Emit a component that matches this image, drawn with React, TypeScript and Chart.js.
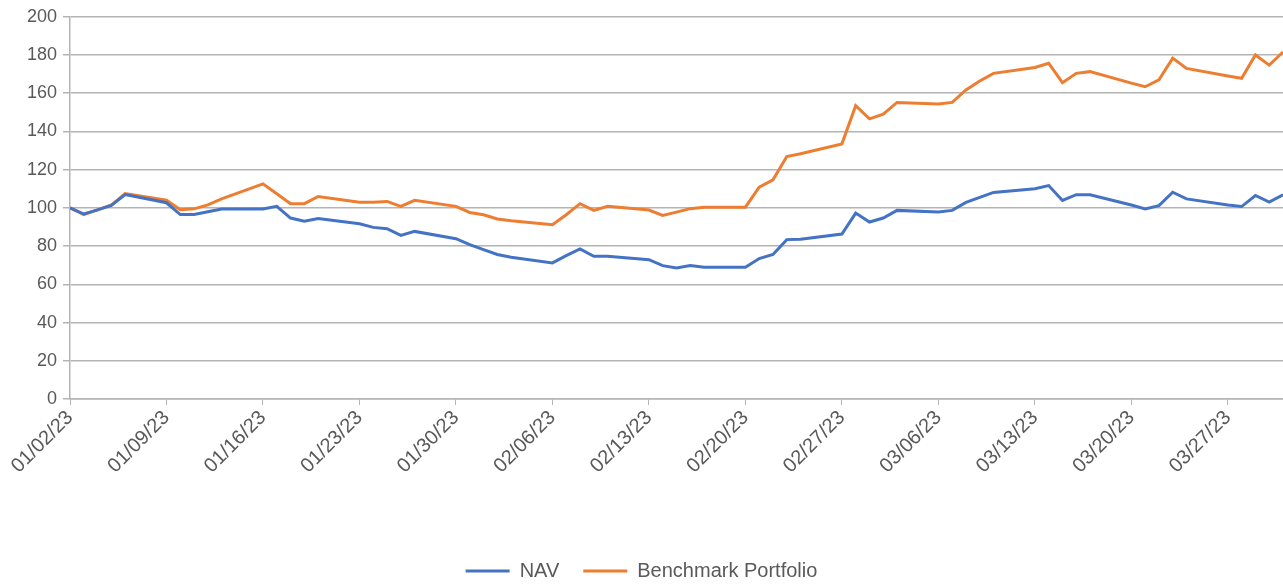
import React, { useEffect, useRef } from "react";
import { Chart, registerables } from "chart.js";

Chart.register(...registerables);

const dates: string[] = [
  "2023-01-02", "2023-01-03", "2023-01-04", "2023-01-05", "2023-01-06",
  "2023-01-09", "2023-01-10", "2023-01-11", "2023-01-12", "2023-01-13",
  "2023-01-16", "2023-01-17", "2023-01-18", "2023-01-19", "2023-01-20",
  "2023-01-23", "2023-01-24", "2023-01-25", "2023-01-26", "2023-01-27",
  "2023-01-30", "2023-01-31", "2023-02-01", "2023-02-02", "2023-02-03",
  "2023-02-06", "2023-02-07", "2023-02-08", "2023-02-09", "2023-02-10",
  "2023-02-13", "2023-02-14", "2023-02-15", "2023-02-16", "2023-02-17",
  "2023-02-20", "2023-02-21", "2023-02-22", "2023-02-23", "2023-02-24",
  "2023-02-27", "2023-02-28", "2023-03-01", "2023-03-02", "2023-03-03",
  "2023-03-06", "2023-03-07", "2023-03-08", "2023-03-09", "2023-03-10",
  "2023-03-13", "2023-03-14", "2023-03-15", "2023-03-16", "2023-03-17",
  "2023-03-20", "2023-03-21", "2023-03-22", "2023-03-23", "2023-03-24",
  "2023-03-27", "2023-03-28", "2023-03-29", "2023-03-30", "2023-03-31",
];

const navValues: number[] = [
  100, 96.8, 99, 101.3, 107,
  102.7, 96.5, 96.5, 98, 99.4,
  99.4, 100.8, 94.7, 93, 94.5,
  91.7, 89.8, 89.1, 85.6, 87.7,
  83.9, 80.8, 78.2, 75.6, 74.2,
  71.2, 75, 78.5, 74.7, 74.7,
  72.9, 69.8, 68.6, 69.8, 68.9,
  68.9, 73.5, 75.6, 83.4, 83.6,
  86.3, 97.3, 92.6, 94.7, 98.7,
  97.8, 98.7, 102.9, 105.5, 108.1,
  110, 111.7, 103.9, 106.9, 106.9,
  101.5, 99.4, 101.2, 108.2, 104.7,
  101.5, 100.7, 106.5, 103, 106.9,
];

const benchmarkValues: number[] = [
  100, 96.5, 99, 101.5, 107.5,
  104, 99, 99.5, 101.6, 104.7,
  112.6, 107.4, 102.2, 102.2, 106,
  103, 103, 103.4, 100.8, 104,
  100.8, 97.6, 96.4, 94.2, 93.3,
  91.2, 96.4, 102.2, 98.7, 100.8,
  98.9, 96.1, 97.8, 99.6, 100.4,
  100.4, 110.9, 114.7, 126.9, 128.3,
  133.5, 153.5, 146.6, 149, 155.2,
  154.4, 155.2, 161.7, 166.4, 170.4,
  173.5, 175.7, 165.5, 170.4, 171.3,
  165.3, 163.4, 167, 178.4, 173,
  169, 167.8, 180, 174.7, 181.6,
];

const tickLabels: string[] = [
  "01/02/23", "01/09/23", "01/16/23", "01/23/23", "01/30/23", "02/06/23",
  "02/13/23", "02/20/23", "02/27/23", "03/06/23", "03/13/23", "03/20/23", "03/27/23",
];

const yTicks = { min: 0, max: 200, step: 20 };

const DAY = 86400000;
const start = Date.parse(dates[0] + "T00:00:00Z");
const dayOf = (s: string) => Math.round((Date.parse(s + "T00:00:00Z") - start) / DAY);
const lastDay = dayOf(dates[dates.length - 1]);

const FONT = "'Liberation Sans', Arial, sans-serif";
const TEXT = "#595959";
const GRID = "#b4b4b4";

export default function App() {
  const ref = useRef<HTMLCanvasElement | null>(null);

  useEffect(() => {
    if (!ref.current) return;
    const chart = new Chart(ref.current, {
      type: "line",
      data: {
        datasets: [
          {
            label: "NAV",
            data: dates.map((d, i) => ({ x: dayOf(d), y: navValues[i] })),
            borderColor: "#4472C4",
            backgroundColor: "#4472C4",
            borderWidth: 3,
            pointRadius: 0,
            tension: 0,
          },
          {
            label: "Benchmark Portfolio",
            data: dates.map((d, i) => ({ x: dayOf(d), y: benchmarkValues[i] })),
            borderColor: "#ED7D31",
            backgroundColor: "#ED7D31",
            borderWidth: 3,
            pointRadius: 0,
            tension: 0,
          },
        ],
      },
      options: {
        animation: false,
        responsive: true,
        maintainAspectRatio: false,
        layout: { padding: { top: 3, right: 0, left: 0, bottom: 0 } },
        scales: {
          x: {
            type: "linear",
            min: 0,
            max: lastDay,
            afterFit: (scale: any) => {
              scale.height = 138;
            },
            afterBuildTicks: (scale: any) => {
              scale.ticks = tickLabels.map((_, i) => ({ value: i * 7 }));
            },
            ticks: {
              includeBounds: false,
              stepSize: 7,
              autoSkip: false,
              maxRotation: 45,
              minRotation: 45,
              color: TEXT,
              font: { family: FONT, size: 20 },
              padding: 1,
              callback: (v: any) => tickLabels[Math.round(Number(v) / 7)] ?? "",
            },
            grid: {
              drawOnChartArea: false,
              drawTicks: true,
              tickLength: 6,
              color: GRID,
            },
            border: { display: true, color: GRID, width: 1.5 },
          },
          y: {
            min: yTicks.min,
            max: yTicks.max,
            afterFit: (scale: any) => {
              scale.width = 70;
            },
            ticks: {
              stepSize: yTicks.step,
              color: TEXT,
              font: { family: FONT, size: 18 },
              padding: 6,
            },
            grid: {
              color: GRID,
              lineWidth: 1.5,
              drawTicks: true,
              tickLength: 7,
            },
            border: { display: true, color: GRID, width: 1.5 },
          },
        },
        plugins: {
          legend: {
            position: "bottom",
            labels: {
              boxWidth: 44,
              boxHeight: 3,
              padding: 24,
              color: TEXT,
              font: { family: FONT, size: 20 },
              generateLabels: (c: any) =>
                Chart.defaults.plugins.legend.labels
                  .generateLabels(c)
                  .map((l: any) => ({ ...l, lineWidth: 0, fillStyle: l.strokeStyle })),
            },
          },
          tooltip: { enabled: false },
        },
      },
    });
    return () => chart.destroy();
  }, []);

  return (
    <div style={{ position: "fixed", left: 0, top: 0, width: 1283, height: 591, background: "#fff" }}>
      <canvas ref={ref} />
    </div>
  );
}
